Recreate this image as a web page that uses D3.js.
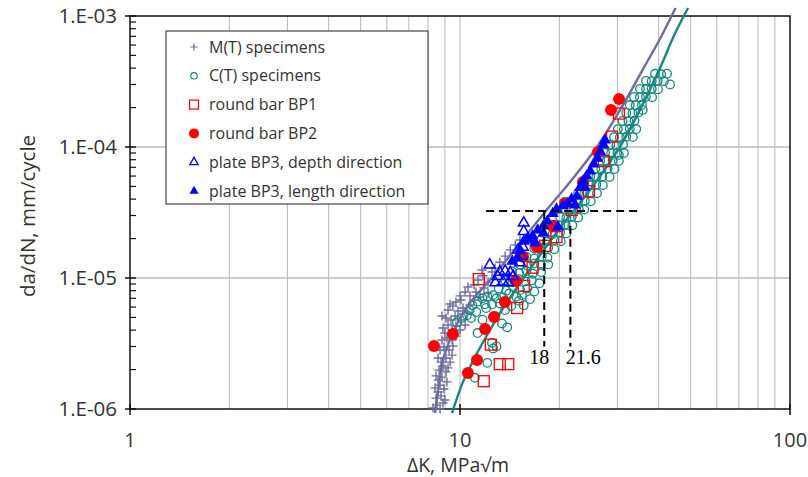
<!DOCTYPE html>
<html>
<head>
<meta charset="utf-8">
<script src="https://cdn.jsdelivr.net/npm/d3@7"></script>
<style>
  body { margin: 0; background: #fff; }
  svg { display: block; }
  text { font-family: "Open Sans", sans-serif; fill: #333; }
</style>
</head>
<body>
<svg id="chart"></svg>
<script>
const SVG_WIDTH = 808;
const SVG_HEIGHT = 477;

// da/dN vs deltaK
const mtData = [
  [8.28,1.02e-6],[8.52,1.07e-6],[8.70,1.0e-6],[8.88,1.11e-6],[8.46,1.21e-6],[8.76,1.26e-6],[9.0,1.17e-6],
  [8.58,1.35e-6],[8.40,1.45e-6],[8.70,1.52e-6],[8.94,1.42e-6],[8.58,1.66e-6],[8.82,1.75e-6],[9.13,1.61e-6],
  [8.46,1.79e-6],[9.07,1.92e-6],[8.64,1.98e-6],[8.88,2.13e-6],[9.20,2.06e-6],[8.76,2.28e-6],[9.07,2.45e-6],
  [9.33,2.28e-6],[8.58,2.45e-6],[9.46,2.58e-6],[8.70,2.82e-6],[8.94,2.97e-6],[9.26,2.82e-6],[9.52,3.03e-6],
  [8.82,3.36e-6],[9.13,3.48e-6],[9.46,3.36e-6],[9.72,3.6e-6],[9.0,3.8e-6],[8.88,4.15e-6],[9.20,4.38e-6],
  [9.46,4.01e-6],[9.72,4.3e-6],[10.0,4.01e-6],[9.07,4.95e-6],[9.39,4.78e-6],[9.66,5.13e-6],[10.07,4.78e-6],
  [10.36,4.38e-6],[8.82,5.13e-6],[9.20,5.7e-6],[9.52,6.1e-6],[9.86,5.6e-6],[10.21,5.9e-6],[10.5,5.4e-6],
  [10.72,6.22e-6],[9.72,6.56e-6],[10.07,6.79e-6],[11.03,6.79e-6],[9.33,6.34e-6],[10.0,7.3e-6],[10.36,7.82e-6],
  [10.72,7.3e-6],[11.18,7.82e-6],[11.5,7.16e-6],[10.57,8.53e-6],[11.03,8.84e-6],[11.82,8.39e-6],[12.16,7.68e-6],
  [11.34,9.65e-6],[11.74,1.04e-5],[12.16,9.3e-6],[12.5,1.11e-5],[11.66,1.15e-5],[12.77,1.19e-5],[13.2,1.32e-5],
  [13.7,1.47e-5],[14.2,1.64e-5],[14.7,1.79e-5],[15.2,1.95e-5]
];

const ctData = [
  [9.79,4.6e-6],[10.1,4.95e-6],[10.5,5.2e-6],[10.7,5.7e-6],[10.9,6.2e-6],[11.3,6.6e-6],[11.7,7.0e-6],
  [12.1,7.2e-6],[12.9,7.0e-6],[10.8,4.95e-6],[11.7,4.8e-6],[11.3,3.8e-6],[12.5,3.2e-6],[12.6,2.9e-6],
  [13.4,4.5e-6],[13.9,4.2e-6],[11.1,1.73e-6],[12.1,2.25e-6],[12.9,3.0e-6],[11.2,5.5e-6],[12.0,5.9e-6],
  [12.5,6.3e-6],[13.2,6.4e-6],[13.7,5.7e-6],[12.8,5.1e-6],
  [11.9,6.3e-6],[13.6,6.6e-6],[14.3,6.1e-6],[15.1,6.7e-6],[15.6,6.2e-6],
  [12.6,7.4e-6],[13.5,7.1e-6],[14.1,7.6e-6],[14.8,7.2e-6],[15.4,7.4e-6],[16.3,6.9e-6],
  [13.1,8.3e-6],[13.8,8.0e-6],[14.5,8.5e-6],[15.2,8.1e-6],[16.0,8.3e-6],[16.8,7.9e-6],
  [13.7,9.6e-6],[14.4,9.3e-6],[15.1,9.8e-6],[15.8,9.4e-6],[16.5,9.6e-6],[17.4,9.1e-6],
  [14.4,1.12e-5],[15.1,1.09e-5],[15.9,1.13e-5],[16.6,1.08e-5],[17.6,1.11e-5],
  [15.2,1.27e-5],[16.0,1.24e-5],[16.8,1.29e-5],[17.6,1.25e-5],[18.5,1.27e-5],
  [15.9,1.45e-5],[16.8,1.41e-5],[17.7,1.46e-5],[18.4,1.43e-5],
  [16.8,1.68e-5],[17.6,1.64e-5],[18.5,1.70e-5],[19.3,1.66e-5],
  [17.5,1.93e-5],[18.3,1.89e-5],[19.3,1.95e-5],[20.2,1.91e-5],
  [18.3,2.21e-5],[19.1,2.17e-5],[20.1,2.23e-5],[21.0,2.19e-5],
  [19.3,2.55e-5],[20.1,2.51e-5],[20.9,2.57e-5],[21.9,2.53e-5],
  [20.1,2.92e-5],[21.0,2.87e-5],[21.8,2.94e-5],[22.8,2.89e-5],
  [20.9,3.36e-5],[21.8,3.31e-5],[22.9,3.38e-5],[23.8,3.33e-5],
  [21.8,3.87e-5],[22.8,3.83e-5],[23.9,3.89e-5],[24.9,3.85e-5],
  [22.8,4.46e-5],[23.8,4.42e-5],[24.8,4.48e-5],[26.0,4.44e-5],
  [23.8,5.15e-5],[24.9,5.10e-5],[25.9,5.17e-5],[27.1,5.12e-5],
  [24.8,5.94e-5],[25.9,5.89e-5],[27.0,5.96e-5],[28.4,5.91e-5],
  [25.7,6.82e-5],[26.8,6.77e-5],[28.0,6.84e-5],[29.4,6.79e-5],
  [26.6,7.86e-5],[27.8,7.81e-5],[29.0,7.88e-5],[30.3,7.83e-5],
  [27.5,9.02e-5],[28.7,8.97e-5],[30.0,9.04e-5],[31.4,8.99e-5],
  [28.5,1.04e-4],[29.8,1.03e-4],[31.2,1.05e-4],
  [29.3,1.19e-4],[30.5,1.18e-4],[31.9,1.20e-4],[33.4,1.19e-4],
  [30.1,1.37e-4],[31.4,1.36e-4],[32.7,1.38e-4],[34.2,1.37e-4],
  [31.1,1.58e-4],[32.4,1.57e-4],[33.8,1.59e-4],
  [31.9,1.82e-4],[33.3,1.81e-4],[34.7,1.83e-4],
  [32.7,2.09e-4],[34.1,2.08e-4],[35.6,2.10e-4],
  [33.7,2.41e-4],[35.1,2.40e-4],[36.6,2.42e-4],[38.2,2.40e-4],
  [35.1,2.78e-4],[36.6,2.76e-4],[38.1,2.79e-4],[39.8,2.76e-4],
  [36.6,3.20e-4],[38.1,3.18e-4],[39.7,3.21e-4],[41.5,3.18e-4],
  [39.0,3.62e-4],[40.7,3.59e-4],[42.4,3.63e-4],
  [30.3,8.7e-5],[35.8,1.92e-4],[43.3,3.0e-4]
];

const bp1Data = [
  [11.4,9.8e-6],[15.6,8.7e-6],[14.9,5.9e-6],[16.6,1.2e-5],[18.1,1.76e-5],[19.6,2.05e-5],[21.8,3.3e-5],
  [24.6,4.6e-5],[27.3,7.8e-5],[28.9,1.2e-4],[30.3,1.8e-4],[12.4,3.1e-6],[13.2,2.2e-6],[14.0,2.2e-6],
  [11.8,1.63e-6]
];

const bp2Data = [
  [8.34,3.03e-6],[9.52,3.74e-6],[10.57,1.88e-6],[11.26,2.37e-6],[11.91,4.08e-6],[12.68,5.04e-6],
  [13.69,6.56e-6],[14.78,9.48e-6],[15.52,1.45e-5],[17.12,1.72e-5],[19.13,2.49e-5],[20.81,3.74e-5],
  [23.59,5.41e-5],[26.19,9.16e-5],[28.68,1.92e-4],[30.33,2.32e-4]
];

const bp3DepthData = [
  [15.6,2.63e-5],[15.6,2.27e-5],[12.3,1.26e-5],[12.8,9.2e-6],[13.0,1.03e-5],[13.5,9.3e-6],[14.0,9.2e-6],
  [13.7,1.13e-5],[14.2,1.1e-5],[14.5,1.03e-5],[15.2,1.31e-5],[15.4,1.47e-5],[15.0,1.64e-5],[15.5,1.72e-5],
  [16.1,1.95e-5],[13.2,1.11e-5]
];

const bp3LengthData = [
  [14.9,1.42e-5],[15.2,1.64e-5],[15.6,1.91e-5],[16.0,1.99e-5],[16.6,2.09e-5],[17.2,2.32e-5],[17.9,2.5e-5],
  [18.4,2.72e-5],[19.1,3.1e-5],[19.6,3.35e-5],[20.5,3.55e-5],[21.2,3.7e-5],[21.8,4.0e-5],[22.6,4.2e-5],
  [23.1,4.9e-5],[23.6,5.5e-5],[24.2,6.0e-5],[24.8,6.55e-5],[25.4,7.4e-5],[26.1,8.2e-5],[26.6,9.2e-5],
  [27.2,1.04e-4],[27.5,1.13e-4],[16.9,1.86e-5],[17.9,2.2e-5],[19.8,2.45e-5],[14.4,1.34e-5],[23.9,4.9e-5],
  [22.3,3.6e-5]
];

// fitted curves
const mtCurve = [
  [8.4,9.3e-7],[8.58,1.4e-6],[8.88,2.37e-6],[9.46,3.67e-6],[10.21,5.4e-6],[11.1,7.2e-6],[12.33,9.65e-6],
  [15.2,1.85e-5],[18.2,3.25e-5],[21.8,5.6e-5],[26.0,1.0e-4],[30.5,1.9e-4],[35.8,3.9e-4],[40.5,6.8e-4],
  [45.0,1.15e-3]
];
const ctCurve = [
  [9.46,9.32e-7],[10.21,1.61e-6],[11.1,2.49e-6],[12.33,4.01e-6],[13.7,6.22e-6],[15.2,9.16e-6],[17.5,1.5e-5],
  [20.1,2.41e-5],[23.1,3.74e-5],[26.6,6.01e-5],[30.5,1.0e-4],[35.1,1.92e-4],[40.4,4.01e-4],[44.6,7.16e-4],
  [49.1,1.15e-3]
];

const xTicks = [1, 10, 100];
const yTicks = [1e-6, 1e-5, 1e-4, 1e-3];
const yTickLabels = ['1.E-06', '1.E-05', '1.E-04', '1.E-03'];

const legendLabels = ['M(T) specimens', 'C(T) specimens', 'round bar BP1', 'round bar BP2',
  'plate BP3, depth direction', 'plate BP3, length direction'];

// threshold annotation
const dashLevel = 3.25e-5;
const dashRange = [12, 35];
const markK = [18, 21.6];
const markTop = [3.25e-5, 2.5e-5];
const markBottom = 3.0e-6;

const PURPLE = '#6c6c9e';
const TEAL = '#14877f';
const RED = '#ff0000';
const BLUE = '#0000ff';

const svg = d3.select('#chart')
  .attr('width', SVG_WIDTH)
  .attr('height', SVG_HEIGHT);

const plotLeft = 130, plotRight = 790, plotTop = 16, plotBottom = 409;

const x = d3.scaleLog().domain([1, 100]).range([plotLeft, plotRight]);
const y = d3.scaleLog().domain([1e-6, 1e-3]).range([plotBottom, plotTop]);

// grid
const minorK = [];
for (const dec of [1, 10]) {
  for (let i = 2; i <= 9; i++) minorK.push(dec * i);
}
minorK.push(10);

svg.append('g')
  .selectAll('line')
  .data(minorK)
  .enter()
  .append('line')
  .attr('x1', d => x(d)).attr('x2', d => x(d))
  .attr('y1', plotTop).attr('y2', plotBottom)
  .attr('stroke', '#b8b8b8')
  .attr('stroke-width', 1);

svg.append('g')
  .selectAll('line')
  .data([1e-5, 1e-4])
  .enter()
  .append('line')
  .attr('x1', plotLeft).attr('x2', plotRight)
  .attr('y1', d => y(d)).attr('y2', d => y(d))
  .attr('stroke', '#bdbdbd')
  .attr('stroke-width', 1.5);

// frame
svg.append('rect')
  .attr('x', plotLeft).attr('y', plotTop)
  .attr('width', plotRight - plotLeft).attr('height', plotBottom - plotTop)
  .attr('fill', 'none')
  .attr('stroke', '#111')
  .attr('stroke-width', 1.5);

// y ticks: majors cross the axis, minors point inward
const minorY = [];
for (const dec of [1e-6, 1e-5, 1e-4]) {
  for (let i = 2; i <= 9; i++) minorY.push(dec * i);
}
svg.append('g')
  .selectAll('line')
  .data(minorY)
  .enter()
  .append('line')
  .attr('x1', plotLeft).attr('x2', plotLeft + 6)
  .attr('y1', d => y(d)).attr('y2', d => y(d))
  .attr('stroke', '#111').attr('stroke-width', 1.2);

svg.append('g')
  .selectAll('line')
  .data(yTicks)
  .enter()
  .append('line')
  .attr('x1', plotLeft - 5).attr('x2', plotLeft + 6)
  .attr('y1', d => y(d)).attr('y2', d => y(d))
  .attr('stroke', '#111').attr('stroke-width', 1.5);

svg.append('g')
  .selectAll('line')
  .data(xTicks)
  .enter()
  .append('line')
  .attr('x1', d => x(d)).attr('x2', d => x(d))
  .attr('y1', plotBottom - 5).attr('y2', plotBottom + 6)
  .attr('stroke', '#111').attr('stroke-width', 1.5);

// tick labels
svg.append('g')
  .selectAll('text')
  .data(yTicks)
  .enter()
  .append('text')
  .attr('x', plotLeft - 13)
  .attr('y', d => y(d))
  .attr('dy', '0.35em')
  .attr('text-anchor', 'end')
  .style('font-size', '20.5px')
  .text((d, i) => yTickLabels[i]);

svg.append('g')
  .selectAll('text')
  .data(xTicks)
  .enter()
  .append('text')
  .attr('x', d => x(d))
  .attr('y', 447)
  .attr('text-anchor', 'middle')
  .style('font-size', '20px')
  .text(d => d);

// axis titles
svg.append('text')
  .attr('x', 458).attr('y', 472)
  .attr('text-anchor', 'middle')
  .style('font-size', '19.5px')
  .text('ΔK, MPa√m');

svg.append('text')
  .attr('transform', 'translate(35,216) rotate(-90)')
  .attr('text-anchor', 'middle')
  .style('font-size', '20.5px')
  .text('da/dN, mm/cycle');

// markers
const crossPath = s => `M${-s},0H${s}M0,${-s}V${s}`;

function drawCrosses(g, data, s) {
  g.selectAll('path.mt')
    .data(data)
    .enter()
    .append('path')
    .attr('class', 'mt')
    .attr('transform', d => `translate(${x(d[0])},${y(d[1])})`)
    .attr('d', crossPath(s))
    .attr('stroke', PURPLE)
    .attr('stroke-width', 1.4)
    .attr('fill', 'none');
}

const marks = svg.append('g');

drawCrosses(marks, mtData, 4.5);

marks.selectAll('circle.ct')
  .data(ctData)
  .enter()
  .append('circle')
  .attr('class', 'ct')
  .attr('cx', d => x(d[0]))
  .attr('cy', d => y(d[1]))
  .attr('r', 4.3)
  .attr('fill', 'none')
  .attr('stroke', TEAL)
  .attr('stroke-width', 1.3);

// curves
const curveLine = d3.line()
  .x(d => x(d[0]))
  .y(d => y(d[1]))
  .curve(d3.curveCatmullRom);

svg.append('path')
  .attr('d', curveLine(mtCurve))
  .attr('fill', 'none')
  .attr('stroke', PURPLE)
  .attr('stroke-width', 2.4);

svg.append('path')
  .attr('d', curveLine(ctCurve))
  .attr('fill', 'none')
  .attr('stroke', TEAL)
  .attr('stroke-width', 2.4);

const marks2 = svg.append('g');

marks2.selectAll('rect.bp1')
  .data(bp1Data)
  .enter()
  .append('rect')
  .attr('class', 'bp1')
  .attr('x', d => x(d[0]) - 5.5)
  .attr('y', d => y(d[1]) - 5.5)
  .attr('width', 11).attr('height', 11)
  .attr('fill', 'none')
  .attr('stroke', RED)
  .attr('stroke-width', 1.3);

marks2.selectAll('circle.bp2')
  .data(bp2Data)
  .enter()
  .append('circle')
  .attr('class', 'bp2')
  .attr('cx', d => x(d[0]))
  .attr('cy', d => y(d[1]))
  .attr('r', 6)
  .attr('fill', RED);

const triOpen = d3.symbol().type(d3.symbolTriangle).size(50);
const triFull = d3.symbol().type(d3.symbolTriangle).size(62);

marks2.selectAll('path.bp3d')
  .data(bp3DepthData)
  .enter()
  .append('path')
  .attr('class', 'bp3d')
  .attr('transform', d => `translate(${x(d[0])},${y(d[1])})`)
  .attr('d', triOpen)
  .attr('fill', 'none')
  .attr('stroke', BLUE)
  .attr('stroke-width', 1.5);

marks2.selectAll('path.bp3l')
  .data(bp3LengthData)
  .enter()
  .append('path')
  .attr('class', 'bp3l')
  .attr('transform', d => `translate(${x(d[0])},${y(d[1])})`)
  .attr('d', triFull)
  .attr('fill', BLUE);

// dashed threshold lines
const dash = svg.append('g')
  .attr('stroke', '#000')
  .attr('stroke-width', 2)
  .attr('stroke-dasharray', '8,5');

dash.append('line')
  .attr('x1', x(dashRange[0])).attr('x2', x(dashRange[1]))
  .attr('y1', y(dashLevel)).attr('y2', y(dashLevel));

dash.selectAll('line.v')
  .data(markK)
  .enter()
  .append('line')
  .attr('class', 'v')
  .attr('x1', d => x(d)).attr('x2', d => x(d))
  .attr('y1', (d, i) => y(markTop[i]))
  .attr('y2', y(markBottom));

svg.selectAll('text.mark')
  .data(markK)
  .enter()
  .append('text')
  .attr('class', 'mark')
  .attr('x', (d, i) => x(d) + (i === 0 ? -5 : 13))
  .attr('y', 364)
  .attr('text-anchor', 'middle')
  .style('font-family', '"Liberation Serif", "Times New Roman", serif')
  .style('font-size', '20px')
  .style('fill', '#000')
  .text(d => d);

// legend
const legend = svg.append('g');
legend.append('rect')
  .attr('x', 166).attr('y', 31)
  .attr('width', 262).attr('height', 173)
  .attr('fill', '#fff')
  .attr('stroke', '#222')
  .attr('stroke-width', 1);

const rowY = i => 47 + i * 28.8;
const sx = 194;

legend.append('path')
  .attr('transform', `translate(${sx},${rowY(0)})`)
  .attr('d', crossPath(3.5))
  .attr('stroke', PURPLE).attr('stroke-width', 1.2);

legend.append('circle')
  .attr('cx', sx).attr('cy', rowY(1)).attr('r', 3.2)
  .attr('fill', 'none').attr('stroke', TEAL).attr('stroke-width', 1.2);

legend.append('rect')
  .attr('x', sx - 4.5).attr('y', rowY(2) - 4.5)
  .attr('width', 9).attr('height', 9)
  .attr('fill', 'none').attr('stroke', RED).attr('stroke-width', 1.2);

legend.append('circle')
  .attr('cx', sx).attr('cy', rowY(3)).attr('r', 5)
  .attr('fill', RED);

legend.append('path')
  .attr('transform', `translate(${sx},${rowY(4)})`)
  .attr('d', d3.symbol().type(d3.symbolTriangle).size(30))
  .attr('fill', 'none').attr('stroke', BLUE).attr('stroke-width', 1.3);

legend.append('path')
  .attr('transform', `translate(${sx},${rowY(5)})`)
  .attr('d', d3.symbol().type(d3.symbolTriangle).size(36))
  .attr('fill', BLUE);

legend.selectAll('text')
  .data(legendLabels)
  .enter()
  .append('text')
  .attr('x', 209)
  .attr('y', (d, i) => rowY(i))
  .attr('dy', '0.35em')
  .style('font-size', '16px')
  .text(d => d);
</script>
</body>
</html>
